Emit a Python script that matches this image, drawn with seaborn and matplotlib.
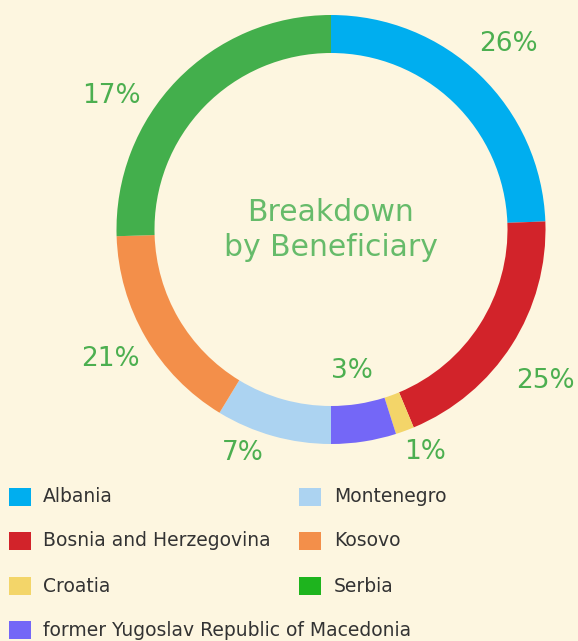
import numpy as np
import matplotlib.pyplot as plt
import seaborn as sns
from matplotlib.patches import Rectangle

# ── data ────────────────────────────────────────────────────────────────
countries = ['Albania', 'Bosnia and Herzegovina', 'Croatia',
             'former Yugoslav Republic of Macedonia', 'Montenegro',
             'Kosovo', 'Serbia']
# arc shares as drawn (read from the ring, clockwise from 12 o'clock)
shares = [24.4, 19.3, 1.4, 4.9, 8.7, 15.8, 25.5]
# the percentages printed next to the ring
pct_labels = ['26%', '25%', '1%', '3%', '7%', '21%', '17%']
ring_colors = ['#00AEEF', '#D2232A', '#F3D569', '#7467F7',
               '#ACD3F1', '#F38F4A', '#43AF4C']
legend_colors = ['#00AEEF', '#D2232A', '#F3D569', '#7467F7',
                 '#ACD3F1', '#F38F4A', '#1EB41E']
center_title = 'Breakdown\nby Beneficiary'

# ── layout (pixels) ─────────────────────────────────────────────────────
W, H = 578, 641
CX, CY, R = 331, 229.5, 214.5
RING_W = 38
# label centres, same order as pct_labels
label_px = [(508, 44), (545, 381), (425, 452), (352, 371),
            (243, 453), (110, 359), (111, 96)]

BG = '#FDF6E0'
sns.set_theme(style='white')
plt.rcParams['font.family'] = ['DejaVu Sans']

fig = plt.figure(figsize=(W / 100, H / 100), dpi=100, facecolor=BG)
ax = fig.add_axes([0, 0, 1, 1])
ax.set_facecolor(BG)

ax.pie(shares, colors=ring_colors, startangle=90, counterclock=False,
       radius=1, wedgeprops=dict(width=RING_W / R, edgecolor='none'))

ax.set_xlim(-CX / R, (W - CX) / R)
ax.set_ylim(-(H - CY) / R, CY / R)
ax.set_aspect('auto')
ax.axis('off')


def px2data(px, py):
    return (px - CX) / R, (CY - py) / R


for lab, (px, py) in zip(pct_labels, label_px):
    x, y = px2data(px, py)
    ax.text(x, y, lab, ha='center', va='center', fontsize=19,
            color='#4CAF50')

ax.text(0, px2data(0, 230)[1], center_title, ha='center', va='center',
        fontsize=21.5, color='#66BB6A', linespacing=1.25)

# ── legend (two hand-placed columns) ─────────────────────────────────────
rows_y = [497, 541, 586, 630]
cols = [(9, 43), (299, 334)]
order = [[0, 1, 2, 3], [4, 5, 6]]
for (mx, tx), idxs in zip(cols, order):
    for row, i in enumerate(idxs):
        y = rows_y[row]
        fig.patches.append(Rectangle((mx / W, 1 - (y + 8.7) / H),
                                     22 / W, 17.4 / H,
                                     transform=fig.transFigure,
                                     facecolor=legend_colors[i],
                                     edgecolor='none'))
        fig.text(tx / W, 1 - y / H, countries[i], ha='left', va='center',
                 fontsize=13.5, color='#333333')

fig.savefig('out.png', dpi=100, facecolor=BG)
